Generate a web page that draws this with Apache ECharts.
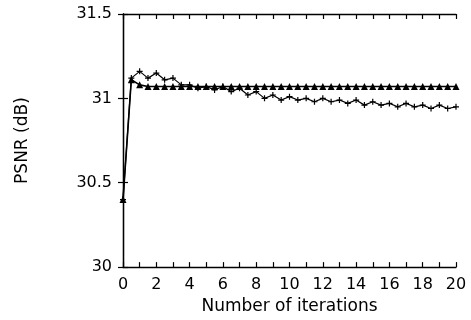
<!DOCTYPE html>
<html>
<head>
<meta charset="utf-8">
<script src="https://cdn.jsdelivr.net/npm/echarts@6/dist/echarts.min.js"></script>
<style>
html,body{margin:0;padding:0;background:#fff;}
#c{width:471px;height:320px;}
</style>
</head>
<body>
<div id="c"></div>
<script>
var iterations = [0,0.5,1,1.5,2,2.5,3,3.5,4,4.5,5,5.5,6,6.5,7,7.5,8,8.5,9,9.5,10,10.5,11,11.5,12,12.5,13,13.5,14,14.5,15,15.5,16,16.5,17,17.5,18,18.5,19,19.5,20];
var triangleSeries = [30.40,31.11,31.08,31.07,31.07,31.07,31.07,31.07,31.07,31.07,31.07,31.07,31.07,31.07,31.07,31.07,31.07,31.07,31.07,31.07,31.07,31.07,31.07,31.07,31.07,31.07,31.07,31.07,31.07,31.07,31.07,31.07,31.07,31.07,31.07,31.07,31.07,31.07,31.07,31.07,31.07];
var plusSeries = [30.40,31.12,31.16,31.12,31.15,31.11,31.12,31.08,31.08,31.06,31.07,31.05,31.07,31.04,31.06,31.02,31.04,31.00,31.02,30.99,31.01,30.99,31.00,30.98,31.00,30.98,30.99,30.97,30.99,30.96,30.98,30.96,30.97,30.95,30.97,30.95,30.96,30.94,30.96,30.94,30.95];
var xTickLabels = ['0','2','4','6','8','10','12','14','16','18','20'];
var yTickLabels = ['30','30.5','31','31.5'];

function pairs(ys){ return iterations.map(function(x,i){ return [x, ys[i]]; }); }

var font = 'DejaVu Sans, Liberation Sans, Arial, sans-serif';
var chart = echarts.init(document.getElementById('c'));
var axisLine = {show:true, lineStyle:{color:'#000', width:1.3}};
chart.setOption({
  animation:false,
  backgroundColor:'#fff',
  grid:{left:123, right:15, top:14, bottom:51},
  xAxis:[{
    type:'value', min:0, max:20, interval:2, position:'bottom',
    name:'Number of iterations', nameLocation:'middle', nameGap:30,
    nameTextStyle:{fontFamily:font, fontSize:17, color:'#000'},
    axisLine:axisLine,
    axisTick:{show:true, inside:true, length:5, lineStyle:{color:'#000', width:1.2}},
    minorTick:{show:true, splitNumber:2, length:5, lineStyle:{color:'#000', width:1.2}},
    axisLabel:{fontFamily:font, fontSize:16, color:'#000', margin:10,
      formatter:function(v){ var s=String(v); return xTickLabels.indexOf(s)>=0?s:''; }},
    splitLine:{show:false}
  },{
    type:'value', min:0, max:20, interval:2, position:'top',
    axisLine:axisLine,
    axisTick:{show:true, inside:true, length:5, lineStyle:{color:'#000', width:1.2}},
    minorTick:{show:true, splitNumber:2, length:5, lineStyle:{color:'#000', width:1.2}},
    axisLabel:{show:false}, splitLine:{show:false}
  }],
  yAxis:[{
    type:'value', min:30, max:31.5, interval:0.5, position:'left',
    name:'PSNR (dB)', nameLocation:'middle', nameGap:92, nameRotate:90,
    nameTextStyle:{fontFamily:font, fontSize:17, color:'#000'},
    axisLine:axisLine,
    axisTick:{show:true, inside:true, length:5, lineStyle:{color:'#000', width:1.2}},
    axisLabel:{fontFamily:font, fontSize:16, color:'#000', margin:11,
      formatter:function(v){ var s=String(v); return yTickLabels.indexOf(s)>=0?s:''; }},
    splitLine:{show:false}
  },{
    type:'value', min:30, max:31.5, interval:0.5, position:'right',
    axisLine:axisLine,
    axisTick:{show:true, inside:true, length:5, lineStyle:{color:'#000', width:1.2}},
    axisLabel:{show:false}, splitLine:{show:false}
  }],
  series:[{
    type:'line', xAxisIndex:0, yAxisIndex:0,
    data:pairs(plusSeries),
    symbol:'path://M4,0H6V4H10V6H6V10H4V6H0V4H4Z', symbolSize:6,
    itemStyle:{color:'#000'},
    lineStyle:{color:'#000', width:1.2}
  },{
    type:'line', xAxisIndex:0, yAxisIndex:0,
    data:pairs(triangleSeries),
    symbol:'triangle', symbolSize:7,
    itemStyle:{color:'#000'},
    lineStyle:{color:'#000', width:1.6}
  }]
});
</script>
</body>
</html>
